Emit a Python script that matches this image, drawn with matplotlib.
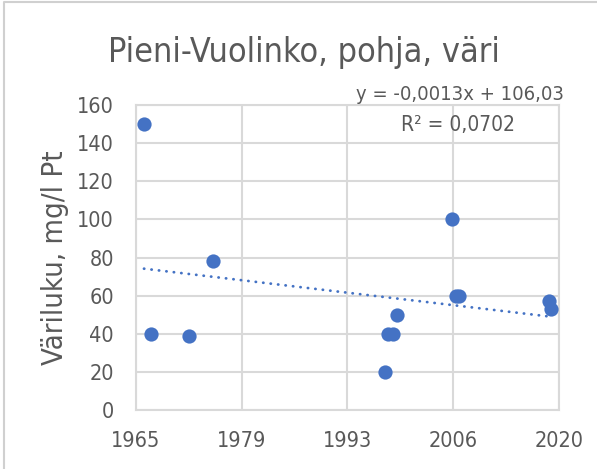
import numpy as np
import pandas as pd
import matplotlib
matplotlib.use("Agg")
import matplotlib.pyplot as plt
from matplotlib.lines import Line2D

plt.rcParams['font.family'] = ['DejaVu Sans']
plt.rcParams['font.stretch'] = 'condensed'

# näytteenottopäivät ja väriluku (mg/l Pt)
dates = ['1966-09-28', '1967-08-11', '1972-07-13', '1975-08-22',
         '1997-12-29', '1998-05-20', '1999-01-11', '1999-06-21',
         '2006-08-19', '2007-02-24', '2007-07-16', '2019-03-12', '2019-06-15']
vari = [150, 40, 39, 78, 20, 40, 40, 50, 100, 60, 60, 57, 53]

x_ticks = [24000, 29000, 34000, 39000, 44000]   # Excel-päiväluvut
y_ticks = [0, 20, 40, 60, 80, 100, 120, 140, 160]

# Excelin päivälukuina, kuten trendiviivan yhtälössä
x = (pd.to_datetime(dates) - pd.Timestamp('1899-12-30')).days.values.astype(float)
y = np.array(vari, dtype=float)

k, b = np.polyfit(x, y, 1)
xt = np.array([x.min(), x.max()])

grey = '#595959'
blue = '#4472C4'
gridc = '#d9d9d9'

fig = plt.figure(figsize=(5.97, 4.69), dpi=100)
# kaavion reunus (vain vasen ja ylä näkyvissä)
fig.lines.append(Line2D([0.006, 0.006, 1.0], [0.0, 0.995, 0.995], transform=fig.transFigure,
                        color='#d0d0d0', linewidth=1.5))
ax = fig.add_axes([0.2278, 0.1258, 0.7085, 0.6503])

ax.plot(xt, k * xt + b, color=blue, linewidth=2.0, linestyle=(0, (0.1, 2.6)),
        dash_capstyle='round', zorder=2)
ax.scatter(x, y, s=105, color=blue, zorder=3, linewidths=0)

ax.set_xlim(x_ticks[0], x_ticks[-1])
ax.set_ylim(y_ticks[0], y_ticks[-1])
ax.set_xticks(x_ticks)
ax.set_yticks(y_ticks)
ax.set_xticklabels([str((pd.Timestamp('1899-12-30') + pd.Timedelta(days=t)).year) for t in x_ticks])
ax.grid(True, color=gridc, linewidth=1.5)
ax.set_axisbelow(True)
for s in ax.spines.values():
    s.set_color(gridc)
    s.set_linewidth(1.5)
ax.tick_params(length=0, labelsize=15.5, colors=grey)
ax.tick_params(axis='x', pad=15)
ax.tick_params(axis='y', pad=16)

fig.text(55 / 597, 0.451, 'Väriluku, mg/l Pt', rotation=90, ha='center', va='center',
         fontsize=21, color=grey)
fig.text(304 / 597, 1 - 62 / 469, 'Pieni-Vuolinko, pohja, väri', ha='center', va='baseline',
         fontsize=24.5, color=grey)

ax.text(0.766, 1.033, 'y = -0,0013x + 106,03', transform=ax.transAxes,
        ha='center', va='center', fontsize=14.5, color=grey)
ax.text(0.762, 0.934, 'R² = 0,0702', transform=ax.transAxes,
        ha='center', va='center', fontsize=15, color=grey)

fig.savefig('out.png', dpi=100)
